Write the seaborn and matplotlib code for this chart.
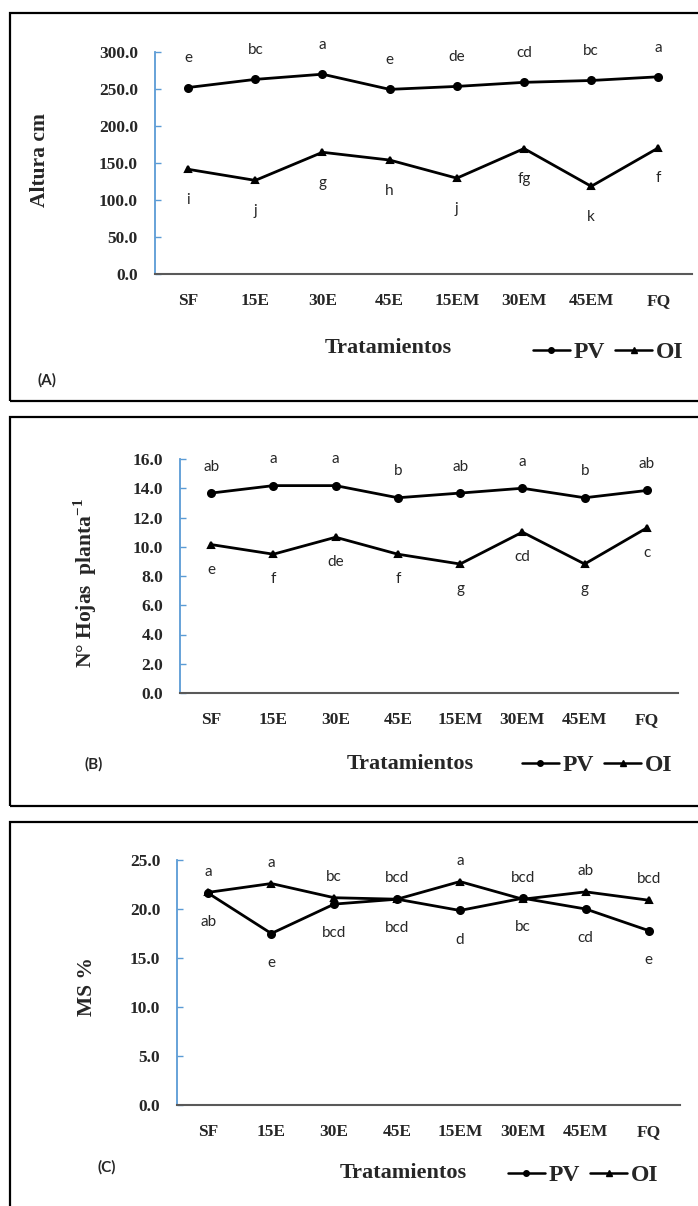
import matplotlib
matplotlib.use("Agg")
import matplotlib.pyplot as plt
from matplotlib.lines import Line2D
from matplotlib.patches import Rectangle
import pandas as pd
import seaborn as sns

# data
tratamientos = ['SF', '15E', '30E', '45E', '15EM', '30EM', '45EM', 'FQ']

altura_pv = [252, 263, 270, 249.5, 253.5, 259, 261.5, 266.5]
altura_oi = [141.5, 126.5, 164.5, 154, 129.5, 169.5, 118.5, 170.5]
altura_pv_let = ['e', 'bc', 'a', 'e', 'de', 'cd', 'bc', 'a']
altura_oi_let = ['i', 'j', 'g', 'h', 'j', 'fg', 'k', 'f']

hojas_pv = [13.67, 14.18, 14.18, 13.35, 13.67, 14.0, 13.35, 13.85]
hojas_oi = [10.15, 9.49, 10.65, 9.49, 8.82, 11.0, 8.82, 11.29]
hojas_pv_let = ['ab', 'a', 'a', 'b', 'ab', 'a', 'b', 'ab']
hojas_oi_let = ['e', 'f', 'de', 'f', 'g', 'cd', 'g', 'c']

ms_pv = [21.6, 17.5, 20.5, 21.0, 19.85, 21.1, 20.0, 17.8]
ms_oi = [21.7, 22.6, 21.15, 21.0, 22.8, 21.0, 21.75, 20.9]
ms_pv_let = ['ab', 'e', 'bcd', 'bcd', 'd', 'bc', 'cd', 'e']
ms_oi_let = ['a', 'a', 'bc', 'bcd', 'a', 'bcd', 'ab', 'bcd']

W, H = 698, 1206
SERIF = 'Liberation Serif'
SANS = 'Lato'
BLUE = '#5B9BD5'

sns.set_style('white')
plt.rcParams['font.family'] = [SERIF, 'DejaVu Sans']
plt.rcParams['mathtext.fontset'] = 'custom'
plt.rcParams['mathtext.rm'] = 'Liberation Serif:bold'
plt.rcParams['mathtext.bf'] = 'Liberation Serif:bold'

fig = plt.figure(figsize=(W / 100, H / 100), dpi=100)


def fx(px):
    return px / W


def fy(py):
    return 1 - py / H


def panel(box, axbox, pv, oi, pv_let, oi_let, ymax, ystep,
          off_pv, off_oi, ylabel, ylab_xy, trat_xy, tag, tag_xy, leg_xy):
    # border of the panel
    x0, y0, x1, y1 = box
    fig.add_artist(Rectangle((fx(x0), fy(y1)), fx(x1 - x0), (y1 - y0) / H,
                             transform=fig.transFigure, fill=False,
                             edgecolor='black', linewidth=1.6))
    l, t, r, b = axbox
    ax = fig.add_axes([fx(l), fy(b), fx(r - l), (b - t) / H])

    df = pd.DataFrame({
        'Tratamiento': tratamientos * 2,
        'valor': list(pv) + list(oi),
        'serie': ['PV'] * len(tratamientos) + ['OI'] * len(tratamientos),
    })
    sns.pointplot(data=df, x='Tratamiento', y='valor', hue='serie',
                  order=tratamientos, hue_order=['PV', 'OI'],
                  palette=['black', 'black'], markers=['o', '^'],
                  linestyles=['-', '-'], errorbar=None, legend=False,
                  markersize=5, linewidth=2, ax=ax)

    for i, (v, s) in enumerate(zip(pv, pv_let)):
        ax.annotate(s, (i, v), xytext=(0, off_pv), textcoords='offset points',
                    ha='center', va='center', fontsize=11, family=SANS)
    for i, (v, s) in enumerate(zip(oi, oi_let)):
        ax.annotate(s, (i, v), xytext=(0, off_oi), textcoords='offset points',
                    ha='center', va='center', fontsize=11, family=SANS)

    ax.set_xlim(-0.5, len(tratamientos) - 0.5)
    ax.set_ylim(0, ymax)
    yt = [k * ystep for k in range(int(round(ymax / ystep)) + 1)]
    ax.set_yticks(yt)
    ax.set_yticklabels(['{:.1f}'.format(v) for v in yt], fontsize=12.5,
                       fontweight='bold', family=SERIF)
    ax.set_xticks(range(len(tratamientos)))
    ax.set_xticklabels(tratamientos, fontsize=12.5, fontweight='bold',
                       family=SERIF)
    ax.set_xticks([k - 0.5 for k in range(len(tratamientos) + 1)], minor=True)
    ax.tick_params(axis='x', which='major', length=0, pad=14)
    ax.tick_params(axis='x', which='minor', direction='in', length=4,
                   width=1, color='#595959')
    ax.tick_params(axis='y', which='major', direction='in', length=4,
                   width=1, color=BLUE, pad=12, left=True)
    ax.set_xlabel('')
    ax.set_ylabel('')
    for side in ['top', 'right']:
        ax.spines[side].set_visible(False)
    ax.spines['left'].set_color(BLUE)
    ax.spines['left'].set_linewidth(1.3)
    ax.spines['bottom'].set_color('#595959')
    ax.spines['bottom'].set_linewidth(1.5)
    ax.patch.set_alpha(0)

    fig.text(fx(ylab_xy[0]), fy(ylab_xy[1]), ylabel, rotation=90,
             ha='center', va='center', fontsize=15.5, fontweight='bold',
             family=SERIF)
    fig.text(fx(trat_xy[0]), fy(trat_xy[1]), 'Tratamientos', ha='center',
             va='center', fontsize=16, fontweight='bold', family=SERIF)
    fig.text(fx(tag_xy[0]), fy(tag_xy[1]), tag, ha='center', va='center',
             fontsize=11, fontweight='bold', family=SANS)

    handles = [Line2D([], [], color='black', marker='o', markersize=4, lw=1.8),
               Line2D([], [], color='black', marker='^', markersize=4, lw=1.8)]
    fig.legend(handles, ['PV', 'OI'], loc='center',
               bbox_to_anchor=(fx(leg_xy[0]), fy(leg_xy[1])), ncol=2,
               frameon=False, handlelength=1.6, handletextpad=0.15,
               columnspacing=0.4, borderpad=0,
               prop={'family': SERIF, 'weight': 'bold', 'size': 17})
    return ax


panel((10, 13, 710, 401), (154.5, 52, 692, 274),
      altura_pv, altura_oi, altura_pv_let, altura_oi_let, 300, 50,
      21, -22, 'Altura cm', (40, 160), (388, 348), '(A)', (47, 380), (608, 352))

panel((10, 416.5, 710, 806), (180, 459, 678, 693),
      hojas_pv, hojas_oi, hojas_pv_let, hojas_oi_let, 16, 2,
      19, -18, 'N° Hojas  planta$^{\\mathrm{-1}}$', (85, 583), (410, 764),
      '(B)', (94, 764), (597, 765))

panel((10, 822, 710, 1220), (177, 860, 680, 1105),
      ms_pv, ms_oi, ms_pv_let, ms_oi_let, 25, 5,
      -21, 15, 'MS %', (87, 987), (403, 1173), '(C)', (107, 1167), (583, 1175))

fig.savefig('out.png', dpi=100)
